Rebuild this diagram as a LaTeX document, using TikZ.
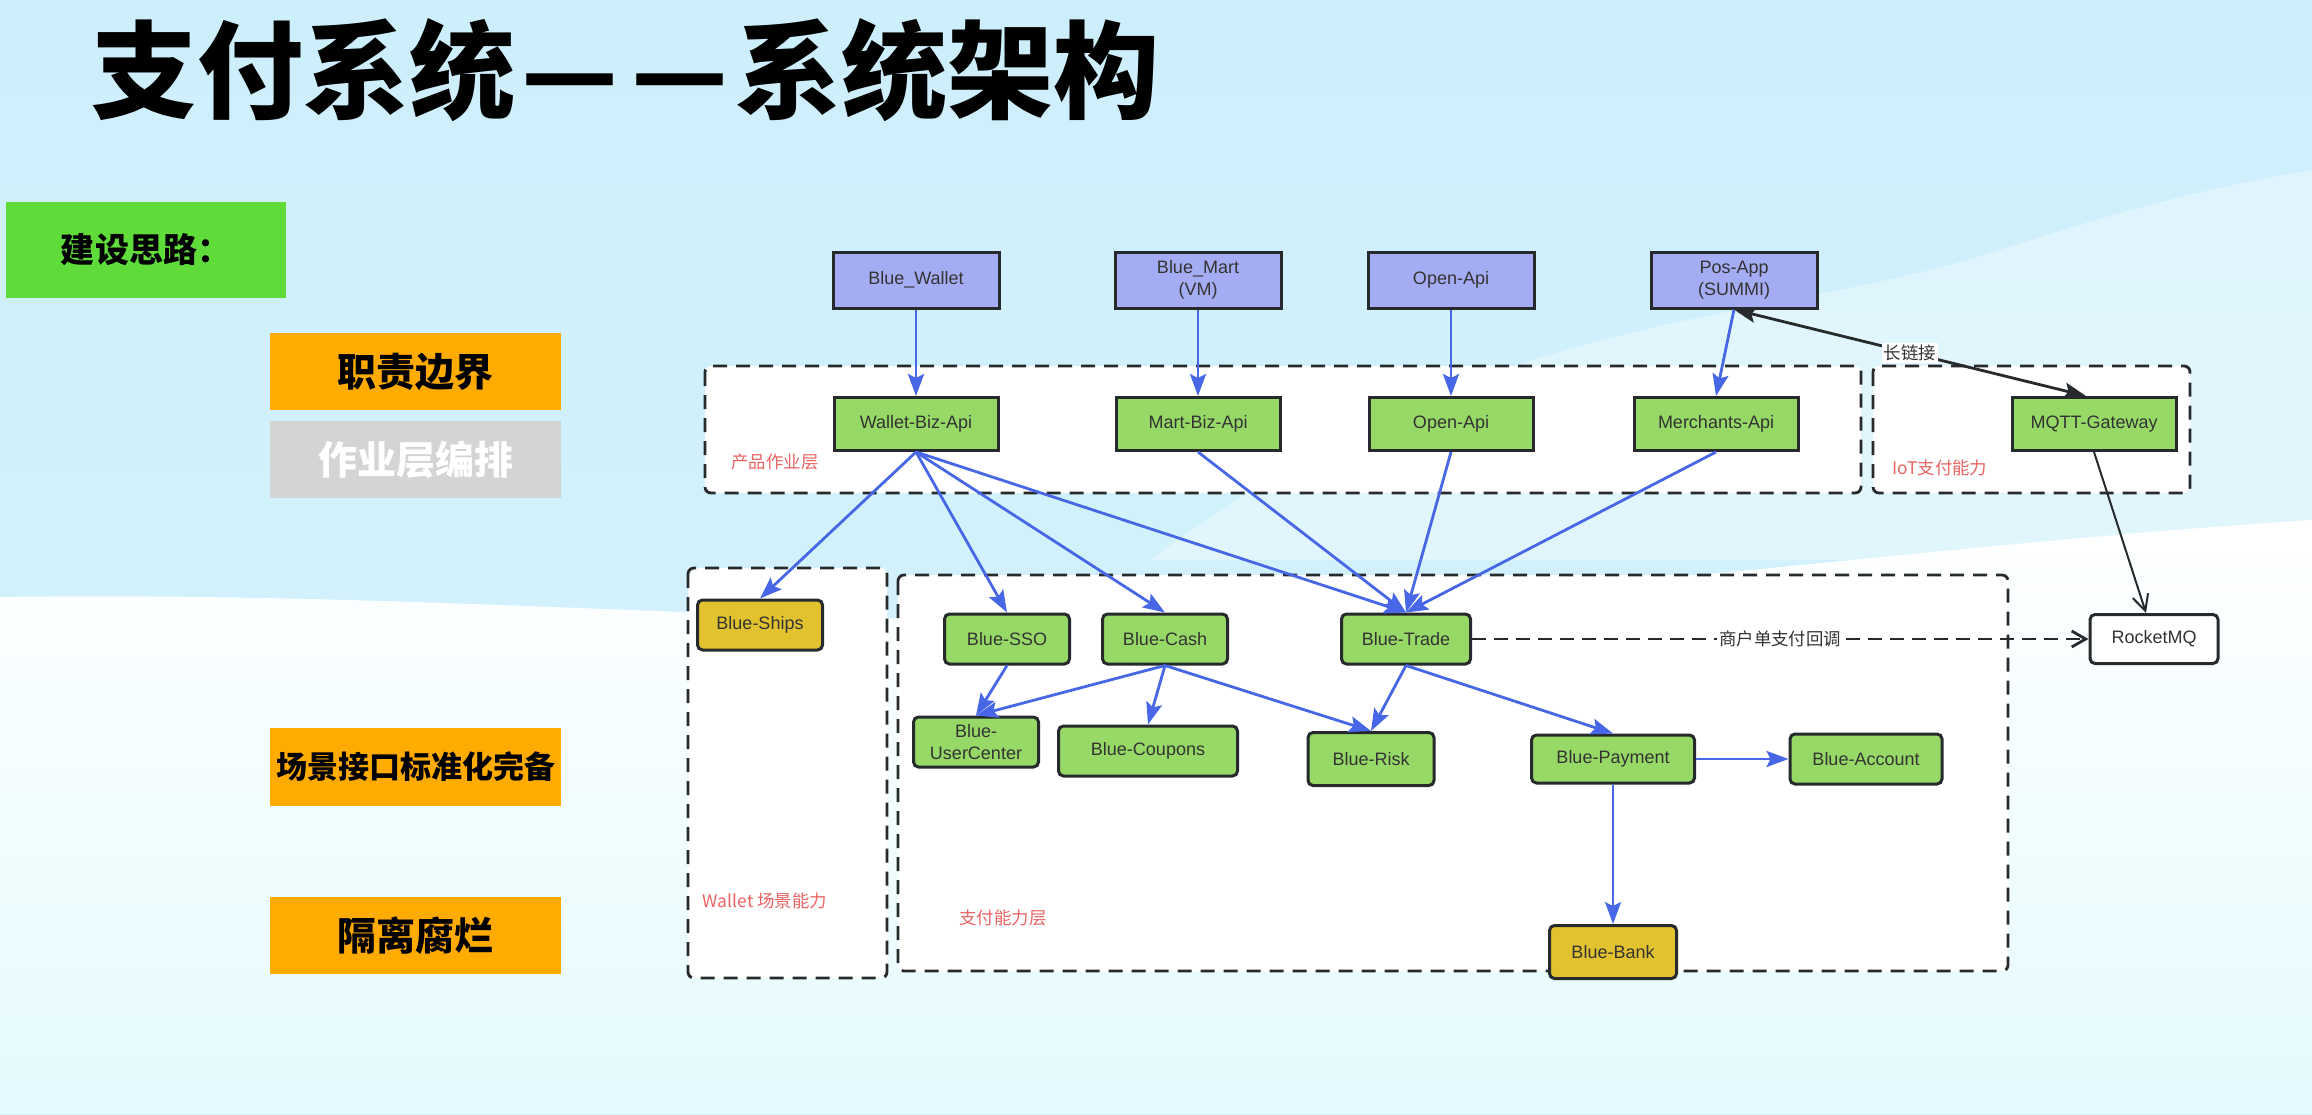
\documentclass[tikz,border=0pt]{standalone}
\usepackage{fontspec}
\setmainfont{Liberation Sans}
\newfontfamily\cjk{Noto Sans CJK SC}
\usepackage{tikz}
\usetikzlibrary{arrows.meta}
\definecolor{bgtop}{HTML}{CDEEFB}
\definecolor{bgmid}{HTML}{D6F4FC}
\definecolor{bgbot}{HTML}{E4FAFE}
\definecolor{appfill}{HTML}{A4ADF3}
\definecolor{svcfill}{HTML}{97D966}
\definecolor{extfill}{HTML}{E2C22F}
\definecolor{edge}{HTML}{262A2C}
\definecolor{txt}{HTML}{333333}
\definecolor{tagred}{HTML}{EA6464}
\definecolor{flowblue}{HTML}{4767E6}
\definecolor{ideagreen}{HTML}{5FDB3A}
\definecolor{ideaorange}{HTML}{FFAB00}
\definecolor{ideagray}{HTML}{D4D4D4}

\begin{document}
\begin{tikzpicture}[x=0.5pt,y=-0.5pt,
  box/.style={draw=edge,line width=1.5pt,inner sep=0pt,align=center,text=txt,font=\fontsize{9}{11}\selectfont},
  app/.style={box,fill=appfill,minimum width=83pt,minimum height=28pt},
  api/.style={box,fill=svcfill,minimum width=82pt,minimum height=26.5pt},
  svc/.style={box,fill=svcfill,rounded corners=2.5pt,minimum width=62.5pt,minimum height=25pt},
  ext/.style={svc,fill=extfill},
  zone/.style={draw=edge,line width=1.4pt,dash pattern=on 7pt off 4.5pt,fill=white,rounded corners=3pt},
  zonetag/.style={text=tagred,font=\cjk\fontsize{8.7}{10}\selectfont},
  flow/.style={draw=flowblue,line width=1.4pt,-{Stealth[length=11pt,width=8pt,inset=2pt]}},
  link/.style={draw=edge,line width=1.4pt},
  ideabox/.style={inner sep=0pt,minimum width=145.5pt,minimum height=38.5pt,font=\cjk\bfseries\fontsize{19.5}{22}\selectfont}]
\useasboundingbox (0,0) rectangle (2312,1114);

% background
\shade[top color=bgtop,bottom color=bgmid] (0,0) rectangle (2312,1114);
\fill[white,opacity=0.35] (1150,560) .. controls (1500,300) and (1750,330) .. (2000,250)
  .. controls (2150,200) and (2250,180) .. (2312,170) -- (2312,560) -- cycle;
\shade[top color=white,bottom color=bgbot] (0,597) .. controls (500,590) and (900,640) .. (1300,610)
  .. controls (1700,580) and (2000,540) .. (2312,520) -- (2312,1114) -- (0,1114) -- cycle;

% title
\node[anchor=west,font=\cjk\bfseries\fontsize{53}{60}\selectfont] (T) at (84,70)
  {支付系统\kern3pt—\kern7pt—\kern3pt系统架构};

% left column
\node[ideabox,fill=ideagreen,minimum width=140pt,minimum height=48pt,font=\cjk\bfseries\fontsize{17}{20}\selectfont] (I0) at (146,250) {建设思路：};
\node[ideabox,fill=ideaorange] (I1) at (415.5,371.5) {职责边界};
\node[ideabox,fill=ideagray,text=white] (I2) at (415.5,459.5) {作业层编排};
\node[ideabox,fill=ideaorange,minimum height=39pt,font=\cjk\bfseries\fontsize{15.5}{18}\selectfont] (I3) at (415.5,767) {场景接口标准化完备};
\node[ideabox,fill=ideaorange] (I4) at (415.5,935.5) {隔离腐烂};

% layers
\draw[zone] (705,366) rectangle (1861,493);
\draw[zone] (1873,366) rectangle (2190,493);
\draw[zone] (688,568) rectangle (887,978);
\draw[zone] (898,575) rectangle (2008,971);
\node[zonetag] (L1) at (775,462) {产品作业层};
\node[zonetag] (L2) at (1940,468) {IoT支付能力};
\node[zonetag] (L3) at (765,901) {Wallet 场景能力};
\node[zonetag] (L4) at (1003,918) {支付能力层};

% apps
\node[app] (BW) at (916,280) {Blue\_Wallet};
\node[app] (BM) at (1198,280) {Blue\_Mart\\(VM)};
\node[app] (OT) at (1451,280) {Open-Api};
\node[app] (PA) at (1734,280) {Pos-App\\(SUMMI)};

% product apis
\node[api] (WB) at (916,424) {Wallet-Biz-Api};
\node[api] (MB) at (1198,424) {Mart-Biz-Api};
\node[api] (OA) at (1451,424) {Open-Api};
\node[api] (MA) at (1716,424) {Merchants-Api};
\node[api] (MQ) at (2094,424) {MQTT-Gateway};

% services
\node[ext] (BS) at (760,625) {Blue-Ships};
\node[svc] (SSO) at (1007,639) {Blue-SSO};
\node[svc] (CA) at (1165,639) {Blue-Cash};
\node[svc,minimum width=64.5pt] (TR) at (1406,639) {Blue-Trade};
\node[svc] (UC) at (976,742) {Blue-\\UserCenter};
\node[svc,minimum width=89.5pt] (CP) at (1148,751) {Blue-Coupons};
\node[svc,minimum width=63pt,minimum height=26.5pt] (RK) at (1371,759) {Blue-Risk};
\node[svc,minimum width=81.5pt,minimum height=24pt] (PY) at (1613,759) {Blue-Payment};
\node[svc,minimum width=76pt] (AC) at (1866,759) {Blue-Account};
\node[ext,minimum width=63.5pt,minimum height=26.5pt] (BK) at (1613,952) {Blue-Bank};
\node[svc,fill=white,minimum width=64pt,minimum height=24.5pt] (RM) at (2154,639) {RocketMQ};

% calls
\draw[flow] (BW) -- (WB);
\draw[flow] (BM) -- (MB);
\draw[flow] (OT) -- (OA);
\draw[flow] (PA.south) -- (MA.north);
\draw[flow] (WB.south) -- (BS.north);
\draw[flow] (WB.south) -- (SSO.north);
\draw[flow] (WB.south) -- (CA.north);
\draw[flow] (WB.south) -- (TR.north);
\draw[flow] (MB.south) -- (TR.north);
\draw[flow] (OA.south) -- (TR.north);
\draw[flow] (MA.south) -- (TR.north);
\draw[flow] (SSO.south) -- (UC.north);
\draw[flow] (CA.south) -- (UC.north);
\draw[flow] (CA.south) -- (CP.north);
\draw[flow] (CA.south) -- (RK.north);
\draw[flow] (TR.south) -- (RK.north);
\draw[flow] (TR.south) -- (PY.north);
\draw[flow] (PY) -- (AC);
\draw[flow,line width=1pt] (PY) -- (BK);

% iot
\draw[link,{Stealth[length=11pt,width=8pt,inset=2pt]}-{Stealth[length=11pt,width=8pt,inset=2pt]}] (PA.south) --
  node[fill=white,inner sep=1pt,text=txt,font=\cjk\fontsize{8.7}{10}\selectfont] {长链接} ([xshift=-4pt]MQ.north);
\draw[link,line width=1pt,-{Straight Barb[length=8pt,width=8pt]}] (MQ.south) -- ([xshift=-4pt]RM.north);
\draw[link,dash pattern=on 7pt off 4pt,-{Straight Barb[length=7pt,width=8pt]}] (TR) --
  node[fill=white,inner sep=1pt,text=txt,font=\cjk\fontsize{8.7}{10}\selectfont] {商户单支付回调} (RM);
\end{tikzpicture}
\end{document}
